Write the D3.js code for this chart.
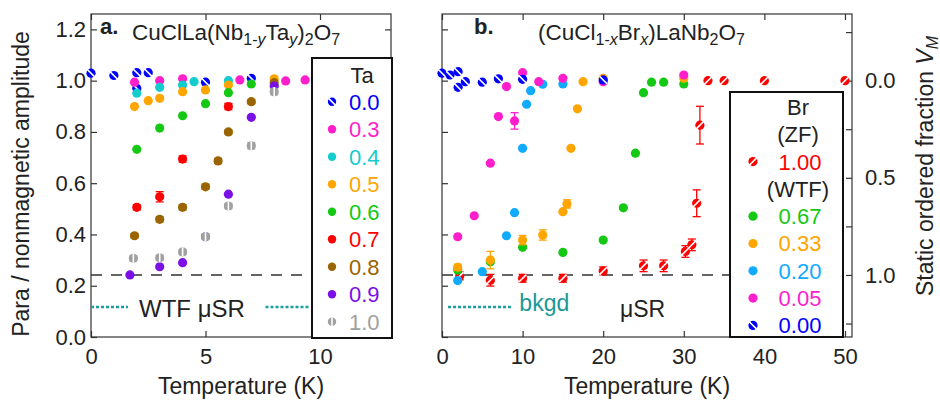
<!DOCTYPE html>
<html>
<head>
<meta charset="utf-8">
<script src="https://cdn.jsdelivr.net/npm/d3@7"></script>
<style>
body { margin: 0; background: #fff; }
text { font-family: "Liberation Sans", Arial, sans-serif; fill: #222; }
</style>
</head>
<body>
<div id="chart"></div>
<script>
// ---- panel a : CuClLa(Nb1-yTay)2O7, temperature (K) vs para amplitude
const ta00T = [0, 1, 2, 2.5, 2, 5, 7];
const ta00A = [1.029, 1.020, 1.031, 1.031, 0.970, 0.994, 1.009];
const ta03T = [1.9, 3, 4, 6.5, 8.5, 9.35];
const ta03A = [0.994, 1.000, 1.007, 1.003, 0.999, 1.003];
const ta04T = [2, 3, 4, 4.5, 6];
const ta04A = [0.951, 0.974, 0.983, 0.996, 1.000];
const ta05T = [1.9, 2.5, 3, 4, 5, 6, 8];
const ta05A = [0.899, 0.922, 0.931, 0.957, 0.964, 0.983, 1.007];
const ta06T = [2, 3, 4, 5, 6, 7];
const ta06A = [0.732, 0.815, 0.863, 0.910, 0.953, 0.987];
const ta07T = [2, 3, 4, 6];
const ta07A = [0.506, 0.547, 0.694, 0.899];
const ta07E = [0.010, 0.020, 0.012, 0.012];
const ta08T = [1.9, 3, 4, 5, 5.55, 6, 7, 8];
const ta08A = [0.395, 0.459, 0.506, 0.586, 0.687, 0.800, 0.918, 0.992];
const ta08E = [0.008, 0.010, 0.010, 0.010, 0.010, 0.008, 0.008, 0.008];
const ta09T = [1.7, 3, 4, 5, 6, 7, 8];
const ta09A = [0.242, 0.274, 0.290, 0.391, 0.557, 0.857, 0.979];
const ta10T = [1.85, 3, 4, 5, 6, 7, 8];
const ta10A = [0.307, 0.309, 0.332, 0.391, 0.511, 0.746, 0.957];
const ta10E = [0.010, 0.010, 0.010, 0.010, 0.010, 0.012, 0.012];
const taLabels = ["0.0", "0.3", "0.4", "0.5", "0.6", "0.7", "0.8", "0.9", "1.0"];

// ---- panel b : (CuCl1-xBrx)LaNb2O7
const br000T = [0, 1, 2, 2.9, 2, 5, 7, 10, 20];
const br000A = [1.029, 1.022, 1.035, 0.996, 0.974, 0.994, 1.007, 1.005, 1.003];
const br005T = [1.95, 4, 6, 7, 8, 9, 10, 12, 15, 20, 30];
const br005A = [0.391, 0.473, 0.678, 0.860, 0.977, 0.843, 1.031, 0.996, 1.009, 0.996, 1.022];
const br005E = [0, 0, 0, 0, 0, 0.032, 0, 0, 0, 0, 0];
const br020T = [1.95, 5, 8, 9, 10, 10.5, 11, 12.5, 15];
const br020A = [0.220, 0.255, 0.395, 0.485, 0.736, 0.908, 0.961, 0.986, 0.987];
const br033T = [1.95, 6, 10, 12.5, 15, 15.5, 16, 16.8, 17.5, 20, 30];
const br033A = [0.272, 0.300, 0.378, 0.398, 0.489, 0.519, 0.736, 0.890, 0.996, 1.009, 1.009];
const br033E = [0.012, 0.034, 0.018, 0.020, 0, 0.016, 0, 0, 0, 0, 0];
const br067T = [1.95, 6, 10, 15, 20, 22.5, 24, 25, 26, 27.5, 30];
const br067A = [0.261, 0.294, 0.350, 0.330, 0.378, 0.504, 0.717, 0.953, 0.994, 0.994, 0.987];
// Br 1.00 is zero field: static ordered fraction V_M (right axis)
const br100T = [2.2, 6, 10, 15, 20, 25, 27.5, 30.2, 31, 31.6, 32, 33, 35, 40, 50];
const br100V = [1.005, 1.027, 1.017, 1.017, 0.979, 0.953, 0.953, 0.879, 0.845, 0.631, 0.229, 0, 0, 0, 0];
const br100E = [0.02, 0.03, 0.02, 0.02, 0.02, 0.03, 0.03, 0.03, 0.03, 0.069, 0.097, 0, 0, 0, 0];
const brLabels = ["1.00", "0.67", "0.33", "0.20", "0.05", "0.00"];

const yTicks = [0, 0.2, 0.4, 0.6, 0.8, 1.0, 1.2];
const vTicks = [-0.25, 0, 0.25, 0.5, 0.75, 1.0, 1.25];
const vLabelled = [0, 0.5, 1.0];
const baseLevel = 0.242;   // para amplitude where V_M = 1
const bkgdLevel = 0.117;

const width = 940, height = 405;
const svg = d3.select('#chart').append('svg')
  .attr('width', width).attr('height', height);

const y = d3.scaleLinear().domain([0, 1.26]).range([337, 14]);
const xa = d3.scaleLinear().domain([0, 13.1]).range([91, 391]);
const xb = d3.scaleLinear().domain([0, 50.87]).range([442, 852]);
const yV = d3.scaleLinear().domain([0, 1]).range([y(1), y(baseLevel)]);

const taSeries = [
  {T: ta00T, A: ta00A, color: '#0000ff', mark: 'back'},
  {T: ta03T, A: ta03A, color: '#ff1ecb'},
  {T: ta04T, A: ta04A, color: '#14cccc'},
  {T: ta05T, A: ta05A, color: '#ffa500'},
  {T: ta06T, A: ta06A, color: '#14c814'},
  {T: ta07T, A: ta07A, E: ta07E, color: '#ff0000'},
  {T: ta08T, A: ta08A, E: ta08E, color: '#9a6400'},
  {T: ta09T, A: ta09A, color: '#7a10e6'},
  {T: ta10T, A: ta10A, E: ta10E, color: '#a0a0a0', mark: 'vert'}
];
taSeries.forEach((s, i) => s.label = taLabels[i]);

const brSeries = [
  {T: br100T, A: br100V, E: br100E, color: '#ff0000', mark: 'fwd', scale: yV},
  {T: br067T, A: br067A, color: '#14c814'},
  {T: br033T, A: br033A, E: br033E, color: '#ffa500'},
  {T: br020T, A: br020A, color: '#10aaff'},
  {T: br005T, A: br005A, E: br005E, color: '#ff1ecb'},
  {T: br000T, A: br000A, color: '#0000ff', mark: 'back'}
];
brSeries.forEach((s, i) => s.label = brLabels[i]);

function stripe(sel, kind, r) {
  if (!kind) return;
  const k = r * 0.8;
  const c = {
    back: [-k, -k, k, k],
    fwd: [-k, k, k, -k],
    vert: [0, -r, 0, r]
  }[kind];
  sel.append('line')
    .attr('x1', c[0]).attr('y1', c[1]).attr('x2', c[2]).attr('y2', c[3])
    .attr('stroke', '#fff').attr('stroke-width', 1.6);
}

function drawSeries(g, s, x) {
  const yy = s.scale || y;
  const pts = s.T.map((t, i) => ({t: t, a: s.A[i], e: s.E ? s.E[i] : 0}));
  const eb = g.append('g').attr('stroke', s.color).attr('stroke-width', 1.3);
  pts.filter(d => d.e > 0).forEach(d => {
    const px = x(d.t);
    eb.append('line').attr('x1', px).attr('x2', px).attr('y1', yy(d.a - d.e)).attr('y2', yy(d.a + d.e));
    eb.append('line').attr('x1', px - 4).attr('x2', px + 4).attr('y1', yy(d.a - d.e)).attr('y2', yy(d.a - d.e));
    eb.append('line').attr('x1', px - 4).attr('x2', px + 4).attr('y1', yy(d.a + d.e)).attr('y2', yy(d.a + d.e));
  });
  const m = g.append('g').selectAll('g').data(pts).join('g')
    .attr('transform', d => `translate(${x(d.t)},${yy(d.a)})`);
  m.append('circle').attr('r', 4.6).attr('fill', s.color);
  stripe(m, s.mark, 4.6);
}

function frame(x, x0, x1) {
  svg.append('rect').attr('x', x0).attr('y', 14).attr('width', x1 - x0).attr('height', 323)
    .attr('fill', 'none').attr('stroke', '#333').attr('stroke-width', 1.2);
}

function axisStyle(g) {
  g.select('.domain').remove();
  g.selectAll('line').attr('stroke', '#333').attr('stroke-width', 1.2);
  g.attr('font-family', '"Liberation Sans", Arial, sans-serif').attr('font-size', 22);
  g.selectAll('text').attr('fill', '#222');
}

// ---------- panel a
frame(xa, 91, 391);
svg.append('g').attr('transform', 'translate(0,337)')
  .call(d3.axisBottom(xa).tickValues([0, 5, 10]).tickSize(-6).tickPadding(11)).call(axisStyle);
svg.append('g').attr('transform', 'translate(0,14)')
  .call(d3.axisTop(xa).tickValues([0, 5, 10]).tickSize(-6).tickFormat('')).call(axisStyle);
svg.append('g').attr('transform', 'translate(91,0)')
  .call(d3.axisLeft(y).tickValues(yTicks).tickSize(-6).tickPadding(5).tickFormat(d3.format('.1f'))).call(axisStyle);
svg.append('g').attr('transform', 'translate(391,0)')
  .call(d3.axisRight(y).tickValues(yTicks).tickSize(-6).tickFormat('')).call(axisStyle);

svg.append('line').attr('x1', xa(0)).attr('x2', 313).attr('y1', y(baseLevel)).attr('y2', y(baseLevel))
  .attr('stroke', '#333').attr('stroke-width', 1.6).attr('stroke-dasharray', '11,9');
[[0, 1.62], [7.62, 9.5]].forEach(r => {
  svg.append('line').attr('x1', xa(r[0])).attr('x2', xa(r[1])).attr('y1', y(bkgdLevel)).attr('y2', y(bkgdLevel))
    .attr('stroke', '#1a9e9e').attr('stroke-width', 2.6).attr('stroke-dasharray', '3,2');
});
svg.append('text').attr('x', 139).attr('y', 317).attr('font-size', 24).text('WTF μSR');

const ga = svg.append('g');
taSeries.forEach(s => drawSeries(ga, s, xa));

// legend a
svg.append('rect').attr('x', 312).attr('y', 58).attr('width', 80).attr('height', 280)
  .attr('fill', '#fff').attr('stroke', '#111').attr('stroke-width', 2);
svg.append('text').attr('x', 362).attr('y', 75).attr('dy', '0.35em').attr('text-anchor', 'middle')
  .attr('font-size', 22).text('Ta');
const la = svg.append('g').selectAll('g').data(taSeries).join('g')
  .attr('transform', (d, i) => `translate(332,${101.7 + i * 27.5})`);
la.each(function (d) {
  const g = d3.select(this);
  g.append('circle').attr('r', 4.2).attr('fill', d.color);
  stripe(g, d.mark, 4.2);
  g.append('text').attr('x', 17).attr('dy', '0.36em').attr('font-size', 22)
    .style('fill', d.color).text(d.label);
});

// ---------- panel b
frame(xb, 442, 852);
svg.append('g').attr('transform', 'translate(0,337)')
  .call(d3.axisBottom(xb).tickValues([0, 10, 20, 30, 40, 50]).tickSize(-6).tickPadding(11)).call(axisStyle);
svg.append('g').attr('transform', 'translate(0,14)')
  .call(d3.axisTop(xb).tickValues([0, 10, 20, 30, 40, 50]).tickSize(-6).tickFormat('')).call(axisStyle);
svg.append('g').attr('transform', 'translate(442,0)')
  .call(d3.axisLeft(y).tickValues(yTicks).tickSize(-6).tickFormat('')).call(axisStyle);
svg.append('g').attr('transform', 'translate(852,0)')
  .call(d3.axisRight(yV).tickValues(vTicks).tickSize(-6).tickPadding(13)
    .tickFormat(d => vLabelled.includes(d) ? d3.format('.1f')(d) : '')).call(axisStyle);

svg.append('line').attr('x1', xb(0)).attr('x2', 730).attr('y1', y(baseLevel)).attr('y2', y(baseLevel))
  .attr('stroke', '#333').attr('stroke-width', 1.6).attr('stroke-dasharray', '11,9');
svg.append('line').attr('x1', xb(0.75)).attr('x2', xb(8.7)).attr('y1', y(bkgdLevel)).attr('y2', y(bkgdLevel))
  .attr('stroke', '#1a9e9e').attr('stroke-width', 2.6).attr('stroke-dasharray', '3,2');
svg.append('text').attr('x', xb(9.6)).attr('y', 311).attr('font-size', 23).style('fill', '#1a9898').text('bkgd');
svg.append('text').attr('x', 620).attr('y', 317).attr('font-size', 23).text('μSR');

const gb = svg.append('g');
brSeries.forEach(s => drawSeries(gb, s, xb));

// legend b
svg.append('rect').attr('x', 730).attr('y', 92).attr('width', 113).attr('height', 245)
  .attr('fill', '#fff').attr('stroke', '#111').attr('stroke-width', 2);
const brRows = [{text: 'Br'}, {text: '(ZF)'}, {s: brSeries[0]}, {text: '(WTF)'}]
  .concat(brSeries.slice(1).map(s => ({s: s})));
const lb = svg.append('g').selectAll('g').data(brRows).join('g')
  .attr('transform', (d, i) => `translate(753,${107 + i * 27.3})`);
lb.each(function (d) {
  const g = d3.select(this);
  if (d.s) {
    g.append('circle').attr('r', 4.6).attr('fill', d.s.color);
    stripe(g, d.s.mark, 4.6);
    g.append('text').attr('x', 47).attr('dy', '0.36em').attr('text-anchor', 'middle')
      .attr('font-size', 22).style('fill', d.s.color).text(d.s.label);
  } else {
    g.append('text').attr('x', 45).attr('dy', '0.36em').attr('text-anchor', 'middle')
      .attr('font-size', 22).text(d.text);
  }
});

// ---------- titles
function rich(t, parts) {
  let sub = false;
  parts.forEach(p => {
    const ts = t.append('tspan').text(p[0]);
    const isSub = p[1] === 'sub' || p[1] === 'subi';
    if (isSub && !sub) ts.attr('dy', 5);
    if (!isSub && sub) ts.attr('dy', -5);
    if (isSub) ts.attr('font-size', 16);
    if (p[1] === 'subi' || p[1] === 'i') ts.attr('font-style', 'italic');
    sub = isSub;
  });
}

svg.append('text').attr('x', 100).attr('y', 34).attr('font-size', 22).attr('font-weight', 'bold').text('a.');
rich(svg.append('text').attr('x', 132).attr('y', 40).attr('font-size', 22.5),
  [['CuClLa(Nb'], ['1-', 'sub'], ['y', 'subi'], ['Ta'], ['y', 'subi'], [')'], ['2', 'sub'], ['O'], ['7', 'sub']]);
svg.append('text').attr('x', 474).attr('y', 34).attr('font-size', 22).attr('font-weight', 'bold').text('b.');
rich(svg.append('text').attr('x', 538).attr('y', 40).attr('font-size', 22.5),
  [['(CuCl'], ['1-', 'sub'], ['x', 'subi'], ['Br'], ['x', 'subi'], [')LaNb'], ['2', 'sub'], ['O'], ['7', 'sub']]);

svg.append('text').attr('x', 241).attr('y', 394).attr('text-anchor', 'middle').attr('font-size', 23).text('Temperature (K)');
svg.append('text').attr('x', 647).attr('y', 394).attr('text-anchor', 'middle').attr('font-size', 23).text('Temperature (K)');

svg.append('text').attr('transform', 'translate(29,184) rotate(-90)').attr('text-anchor', 'middle')
  .attr('font-size', 23).text('Para / nonmagnetic amplitude');
rich(svg.append('text').attr('transform', 'translate(933,166) rotate(-90)').attr('text-anchor', 'middle').attr('font-size', 23),
  [['Static ordered fraction '], ['V', 'i'], ['M', 'subi']]);
</script>
</body>
</html>
